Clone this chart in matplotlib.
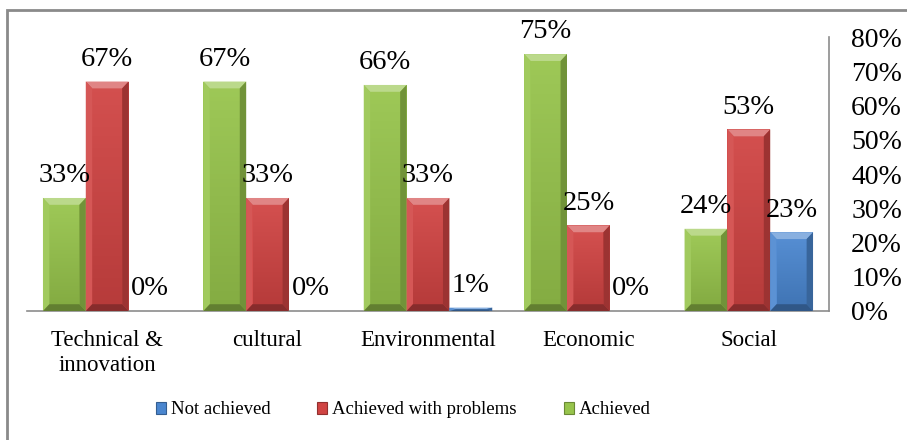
import matplotlib
matplotlib.use("Agg")
import matplotlib.pyplot as plt
from matplotlib.patches import Polygon, Rectangle
import matplotlib.colors as mcolors
import numpy as np

categories = ["Technical &\ninnovation", "cultural", "Environmental", "Economic", "Social"]
series_names = ["Not achieved", "Achieved with problems", "Achieved"]
achieved = [33, 67, 66, 75, 24]
problems = [67, 33, 33, 25, 53]
not_achieved = [0, 0, 1, 0, 23]
yticks = [0, 10, 20, 30, 40, 50, 60, 70, 80]

colors = {"Achieved": "#97C44C", "Achieved with problems": "#D04443", "Not achieved": "#4A86CF"}

plt.rcParams["font.family"] = ["Liberation Serif", "DejaVu Serif"]

fig = plt.figure(figsize=(9.07, 4.40), dpi=100)
ax = fig.add_axes([27/907, 1-311/440, (829-27)/907, (311-37)/440])

x = np.arange(len(categories))
w = 0.267
order = [("Achieved", achieved, -w), ("Achieved with problems", problems, 0.0), ("Not achieved", not_achieved, w)]


def shade(c, f):
    r, g, b = mcolors.to_rgb(c)
    if f >= 0:
        return (r + (1 - r) * f, g + (1 - g) * f, b + (1 - b) * f)
    return (r * (1 + f), g * (1 + f), b * (1 + f))


def bevel(ax, patch, color):
    x0, y0 = patch.get_x(), patch.get_y()
    bw, bh = patch.get_width(), patch.get_height()
    if bh <= 0:
        return
    dx = min(0.04, bw / 2)
    dy = min(2.0, bh / 2)
    x1, y1 = x0 + bw, y0 + bh
    facets = [
        ([(x0, y1), (x1, y1), (x1 - dx, y1 - dy), (x0 + dx, y1 - dy)], shade(color, 0.35)),
        ([(x0, y0), (x0, y1), (x0 + dx, y1 - dy), (x0 + dx, y0 + dy)], shade(color, 0.1)),
        ([(x1, y0), (x1, y1), (x1 - dx, y1 - dy), (x1 - dx, y0 + dy)], shade(color, -0.25)),
        ([(x0, y0), (x1, y0), (x1 - dx, y0 + dy), (x0 + dx, y0 + dy)], shade(color, -0.35)),
    ]
    for pts, c in facets:
        ax.add_patch(Polygon(pts, closed=True, facecolor=c, edgecolor="none", zorder=3))
    grad = np.linspace(0, 1, 50).reshape(-1, 1)
    cmap = mcolors.LinearSegmentedColormap.from_list("g", [shade(color, -0.12), shade(color, 0.06)])
    im = ax.imshow(grad, extent=(x0 + dx, x1 - dx, y0 + dy, y1 - dy), origin="lower",
                   aspect="auto", cmap=cmap, zorder=2.5)
    im.set_clip_path(patch)


for name, vals, off in order:
    bars = ax.bar(x + off, vals, width=w, color=colors[name], edgecolor="none", zorder=2, label=name)
    for p, v in zip(bars, vals):
        bevel(ax, p, colors[name])
        ax.annotate(f"{v}%", (p.get_x() + p.get_width() / 2, v), xytext=(0, 7),
                    textcoords="offset points", ha="center", va="bottom", fontsize=20.5, zorder=5)

ax.set_xlim(-0.5, len(categories) - 0.5)
ax.set_ylim(0, 80)
ax.set_xticks(x)
ax.set_xticklabels(categories, fontsize=16.5, linespacing=1.25)
ax.set_yticks(yticks)
ax.set_yticklabels([f"{t}%" for t in yticks], fontsize=20)
ax.yaxis.tick_right()
ax.tick_params(axis="y", length=0, pad=16)
ax.tick_params(axis="x", length=0, pad=14)
for lbl in ax.get_yticklabels():
    lbl.set_horizontalalignment("left")
for s in ["top", "left"]:
    ax.spines[s].set_visible(False)
for s in ["bottom", "right"]:
    ax.spines[s].set_color("#8C8C8C")
    ax.spines[s].set_linewidth(1.2)

handles = [Rectangle((0, 0), 1, 1, facecolor=colors[n], edgecolor=shade(colors[n], -0.3), linewidth=0.8)
           for n in series_names]
fig.legend(handles, series_names, loc="center", bbox_to_anchor=(403/907, 1-410/440), ncol=3,
           frameon=False, fontsize=13.5, handlelength=0.55, handleheight=0.55, handletextpad=0.25,
           columnspacing=2.5)

fig.add_artist(Rectangle((7/907, -0.1), 1.2, 1.1 - 10/440, transform=fig.transFigure,
                         fill=False, edgecolor="#8A8A8A", linewidth=2))

fig.savefig("out.png", dpi=100)
